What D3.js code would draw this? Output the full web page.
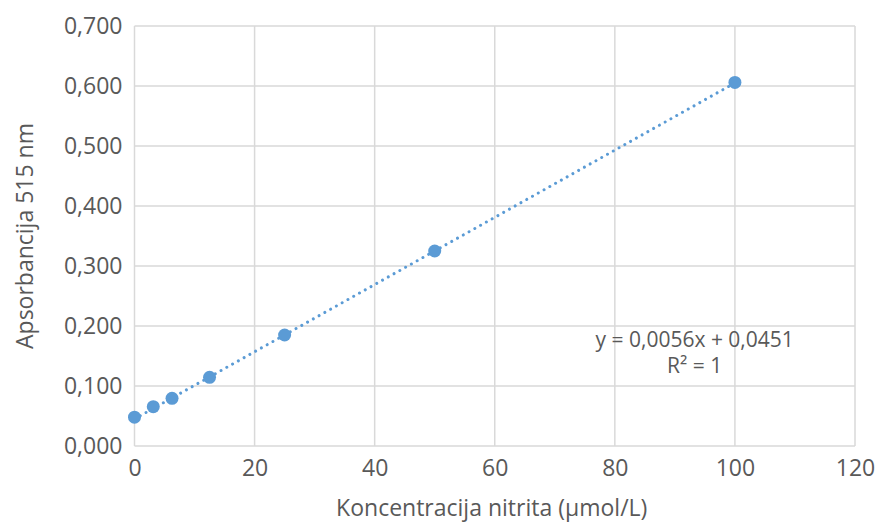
<!DOCTYPE html>
<html>
<head>
<meta charset="utf-8">
<script src="https://cdn.jsdelivr.net/npm/d3@7"></script>
<style>
  body { margin: 0; background: #fff; }
  svg text { font-family: "Open Sans", "Liberation Sans", sans-serif; fill: #595959; }
</style>
</head>
<body>
<svg id="drawing_region"></svg>
<script>
// concentration (µmol/L) and absorbance at 515 nm
const concentrations = [0, 3.125, 6.25, 12.5, 25, 50, 100];
const absorbances = [0.048, 0.0655, 0.0795, 0.1145, 0.185, 0.325, 0.606];
const xTicks = [0, 20, 40, 60, 80, 100, 120];
const yTicks = [0, 0.1, 0.2, 0.3, 0.4, 0.5, 0.6, 0.7];
const trendSlope = 0.0056;
const trendIntercept = 0.0451;
const trendRange = [0, 100];
const equationLines = ["y = 0,0056x + 0,0451", "R² = 1"];

const data = concentrations.map((c, i) => ({ x: c, y: absorbances[i] }));

const config = {
    width: 884,
    height: 525,
    margin: { top: 26, right: 29, bottom: 79, left: 134.5 }
};

const svg = d3.select('#drawing_region')
    .attr('width', config.width)
    .attr('height', config.height);

const inner_width = config.width - config.margin.left - config.margin.right;
const inner_height = config.height - config.margin.top - config.margin.bottom;

const chart = svg.append('g')
    .attr('transform', `translate(${config.margin.left}, ${config.margin.top})`);

const xscale = d3.scaleLinear().domain([0, 120]).range([0, inner_width]);
const yscale = d3.scaleLinear().domain([0, 0.7]).range([inner_height, 0]);

const fmtY = d => d3.format('.3f')(d).replace('.', ',');

// grid lines
chart.append('g')
    .selectAll('line')
    .data(yTicks)
    .join('line')
    .attr('x1', 0).attr('x2', inner_width)
    .attr('y1', d => yscale(d)).attr('y2', d => yscale(d))
    .attr('stroke', '#d9d9d9').attr('stroke-width', 1.5);

chart.append('g')
    .selectAll('line')
    .data(xTicks)
    .join('line')
    .attr('y1', 0).attr('y2', inner_height)
    .attr('x1', d => xscale(d)).attr('x2', d => xscale(d))
    .attr('stroke', '#d9d9d9').attr('stroke-width', 1.5);

// axes (labels only, Excel style)
const xaxis = d3.axisBottom(xscale).tickValues(xTicks).tickSize(0).tickPadding(14);
const yaxis = d3.axisLeft(yscale).tickValues(yTicks).tickFormat(fmtY).tickSize(0).tickPadding(12);

const xg = chart.append('g')
    .attr('transform', `translate(0, ${inner_height})`)
    .call(xaxis);
const yg = chart.append('g').call(yaxis);

[xg, yg].forEach(g => {
    g.select('.domain').remove();
    g.selectAll('text')
        .attr('font-size', '23px')
        .attr('fill', '#595959')
        .style('font-family', '"Open Sans", sans-serif');
});

// trend line
chart.append('line')
    .attr('x1', xscale(trendRange[0]))
    .attr('y1', yscale(trendSlope * trendRange[0] + trendIntercept))
    .attr('x2', xscale(trendRange[1]))
    .attr('y2', yscale(trendSlope * trendRange[1] + trendIntercept))
    .attr('stroke', '#5b9bd5')
    .attr('stroke-width', 3)
    .attr('stroke-linecap', 'round')
    .attr('stroke-dasharray', '0.01 6.6');

// points
chart.selectAll('circle')
    .data(data)
    .join('circle')
    .attr('cx', d => xscale(d.x))
    .attr('cy', d => yscale(d.y))
    .attr('r', 6.5)
    .attr('fill', '#5b9bd5');

// equation label
chart.append('g')
    .selectAll('text')
    .data(equationLines)
    .join('text')
    .attr('x', xscale(93.3))
    .attr('y', (d, i) => yscale(0.2) + 21 + i * 26)
    .attr('text-anchor', 'middle')
    .attr('font-size', '21px')
    .text(d => d);

// axis titles
svg.append('text')
    .attr('x', config.margin.left + inner_width / 2 - 3)
    .attr('y', 516)
    .attr('text-anchor', 'middle')
    .attr('font-size', '23px')
    .text('Koncentracija nitrita (µmol/L)');

svg.append('text')
    .attr('transform', `translate(33, ${config.margin.top + inner_height / 2}) rotate(-90)`)
    .attr('text-anchor', 'middle')
    .attr('font-size', '23px')
    .text('Apsorbancija 515 nm');
</script>
</body>
</html>
